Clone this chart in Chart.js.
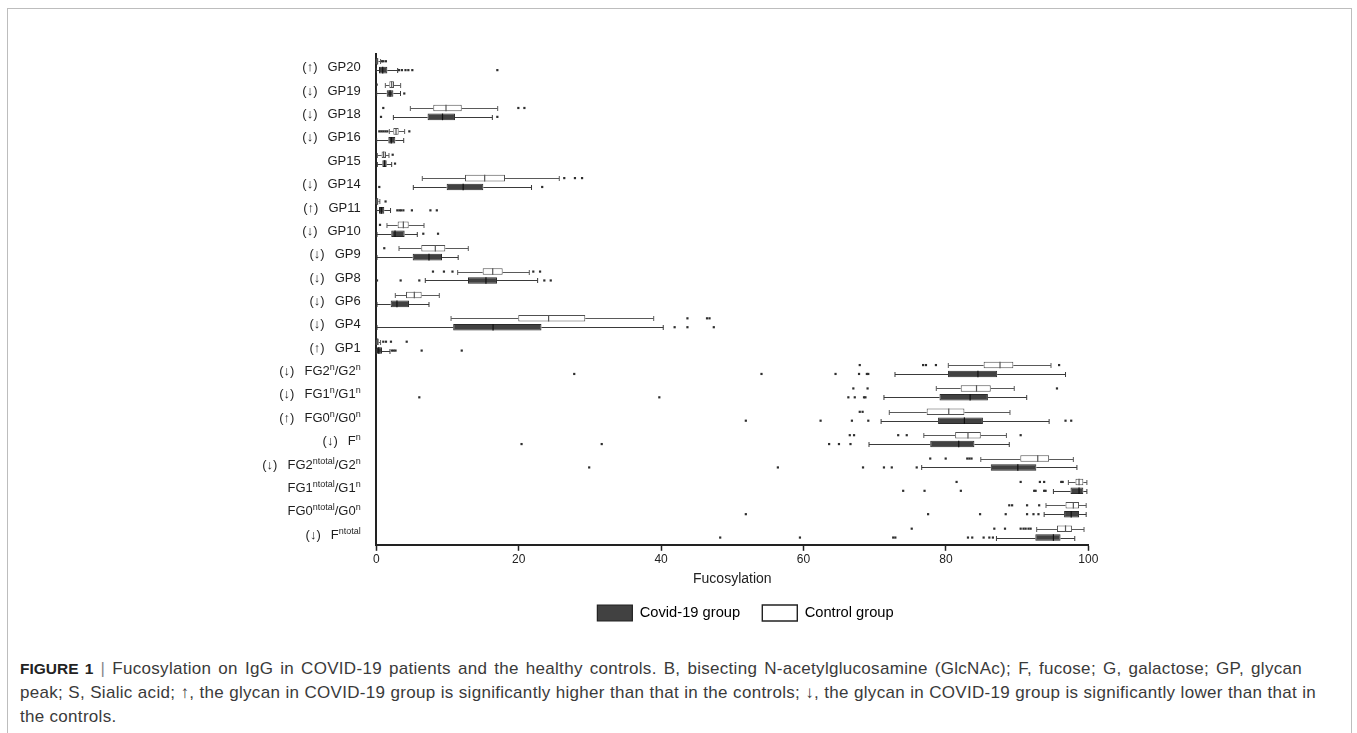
<!DOCTYPE html>
<html>
<head>
<meta charset="utf-8">
<script src="https://cdn.jsdelivr.net/npm/chart.js@4.4.1/dist/chart.umd.min.js"></script>
<style>
  html, body { margin:0; padding:0; background:#fff; width:1357px; height:733px; overflow:hidden; }
  #frame { position:absolute; left:7px; top:8px; width:1345px; height:800px; border:1px solid #bdbdbd; box-sizing:border-box; }
  #wrap { position:absolute; left:142px; top:0px; width:1207px; height:631px; }
  #caption { position:absolute; left:20px; top:657px; font-family:'Liberation Sans', Arial, sans-serif; font-size:17px; letter-spacing:0.3px; line-height:24px; color:#3a3a3a; }
  #caption div { white-space:nowrap; }
  #caption .j { text-align:justify; text-align-last:justify; }
  #caption b { color:#222; letter-spacing:0; font-size:15.5px; }
  #caption .sep { color:#888; }
</style>
</head>
<body>
<div id="frame"></div>
<div id="wrap"><canvas id="c" width="1207" height="631"></canvas></div>
<div id="caption">
  <div class="j" style="width:1282px"><b>FIGURE 1</b> <span class="sep">|</span> Fucosylation on IgG in COVID-19 patients and the healthy controls. B, bisecting N-acetylglucosamine (GlcNAc); F, fucose; G, galactose; GP, glycan</div>
  <div class="j" style="width:1296px">peak; S, Sialic acid; ↑, the glycan in COVID-19 group is significantly higher than that in the controls; ↓, the glycan in COVID-19 group is significantly lower than that in</div>
  <div>the controls.</div>
</div>
<script>
// ---- categories (top to bottom); {..} marks superscript ----
const categories = ['GP20','GP19','GP18','GP16','GP15','GP14','GP11','GP10','GP9','GP8','GP6','GP4','GP1',
  'FG2{n}/G2{n}','FG1{n}/G1{n}','FG0{n}/G0{n}','F{n}','FG2{ntotal}/G2{n}','FG1{ntotal}/G1{n}','FG0{ntotal}/G0{n}','F{ntotal}'];
const trend = ['↑','↓','↓','↓','','↓','↑','↓','↓','↓','↓','↓','↑','↓','↓','↑','↓','↓','','','↓'];
const xTicks = [0, 20, 40, 60, 80, 100];

// ---- Control group ----
const ctlMin = [0, 1.27, 4.78, 1.83, 0.15, 6.46, 0, 1.5, 3.19, 11.43, 2.67, 10.5, 0, 80.34, 78.65, 72.05, 76.9, 84.9, 97.2, 94.06, 92.75];
const ctlQ1  = [0.05, 1.83, 8.0, 2.39, 0.75, 12.46, 0.05, 3.0, 6.32, 14.94, 4.17, 19.94, 0.05, 85.3, 82.08, 77.3, 81.3, 90.45, 98.2, 96.8, 95.6];
const ctlMed = [0.15, 2.16, 9.79, 2.77, 1.03, 15.22, 0.15, 3.8, 8.29, 16.35, 5.34, 24.2, 0.15, 87.6, 84.3, 80.4, 83.1, 92.9, 98.7, 97.9, 96.8];
const ctlQ3  = [0.3, 2.49, 12.0, 3.14, 1.36, 18.08, 0.3, 4.55, 9.69, 17.75, 6.37, 29.35, 0.35, 89.47, 86.3, 82.6, 84.9, 94.5, 99.3, 98.7, 97.7];
const ctlMax = [0.6, 3.42, 17.05, 3.98, 1.78, 25.7, 0.5, 6.7, 12.92, 21.49, 8.85, 38.96, 0.6, 94.76, 89.6, 89.0, 88.5, 97.9, 99.8, 99.7, 99.4];
const ctlOut = [
  [0.8, 1.0, 1.35], [0.05], [0.98, 19.95, 20.8], [0.42, 0.7, 0.98, 1.27, 1.55, 4.64], [2.3],
  [26.4, 27.9, 28.9], [1.3], [0.52], [1.12], [7.96, 9.5, 10.7, 22.05, 23.0], [],
  [43.7, 46.45, 46.8], [0.98, 1.36, 2.06, 4.27],
  [67.9, 76.8, 77.2, 78.6, 95.9], [67.0, 69.0, 95.6], [67.9, 68.3], [66.5, 67.1, 73.3, 74.5, 90.5],
  [77.8, 79.97, 83.0, 83.3, 83.6], [81.5, 90.5, 93.2, 93.8, 96.2, 96.4], [88.9, 89.3, 91.4, 93.1],
  [75.2, 86.8, 88.3, 90.5, 90.9, 91.2, 91.6, 91.9]
];

// ---- Covid-19 group ----
const covMin = [0, 0.05, 2.4, 0.05, 0.15, 5.2, 0.05, 0.1, 0.1, 6.88, 0.1, 0.1, 0, 72.85, 71.3, 70.9, 69.2, 76.6, 95.1, 93.8, 87.1];
const covQ1  = [0.38, 1.46, 7.2, 1.69, 0.85, 9.88, 0.38, 2.1, 5.11, 12.88, 2.02, 10.8, 0.1, 80.3, 79.1, 78.9, 77.8, 86.3, 97.5, 96.6, 92.56];
const covMed = [0.9, 1.93, 9.3, 2.1, 1.17, 12.2, 0.71, 2.63, 7.4, 15.4, 2.9, 16.4, 0.35, 84.5, 83.4, 82.6, 81.8, 90.1, 98.7, 97.6, 95.1];
const covQ3  = [1.55, 2.4, 11.05, 2.67, 1.46, 15.03, 1.12, 3.98, 9.23, 16.95, 4.59, 23.2, 0.8, 87.2, 85.9, 85.2, 84.0, 92.7, 99.3, 98.7, 96.1];
const covMax = [3.0, 3.4, 16.3, 3.85, 2.16, 21.8, 2.0, 5.76, 11.5, 22.66, 7.4, 40.3, 1.92, 96.8, 91.35, 94.5, 88.9, 98.4, 99.8, 99.7, 98.1];
const covOut = [
  [3.2, 3.6, 4.1, 4.5, 5.06, 17.0], [3.93], [0.66, 17.0], [], [2.63],
  [0.42, 23.3], [2.95, 3.24, 3.48, 3.8, 5.0, 7.6, 8.5], [6.6, 8.67], [], [0.1, 3.42, 6.04, 23.6, 24.5], [],
  [41.9, 43.7, 47.4], [2.2, 2.45, 2.7, 6.37, 12.0],
  [27.8, 54.1, 64.5, 67.8, 68.9, 69.1], [6.04, 39.75, 66.3, 67.2, 68.5, 68.7], [51.9, 62.4, 66.8, 69.1, 96.8, 97.6],
  [20.4, 31.66, 63.6, 64.98, 66.6], [29.9, 56.4, 68.36, 71.3, 72.4, 75.9],
  [74.0, 77.0, 82.1, 92.4, 92.6, 93.8, 94.0], [51.9, 77.5, 84.8, 88.4, 91.4, 92.3, 93.0],
  [48.3, 59.5, 72.6, 72.9, 83.1, 83.7, 85.3, 86.1, 86.6]
];

const FONT = "'Liberation Sans', Arial, sans-serif";
const groups = [
  { min: ctlMin, med: ctlMed, max: ctlMax, out: ctlOut, whisker: '#5a5a5a', median: '#555' },
  { min: covMin, med: covMed, max: covMax, out: covOut, whisker: '#3a3a3a', median: '#111' }
];

function parseLabel(s) {
  const parts = []; const re = /([^{]+)|\{([^}]*)\}/g; let m;
  while ((m = re.exec(s)) !== null) {
    if (m[1] !== undefined) parts.push({ t: m[1], sup: false });
    else parts.push({ t: m[2], sup: true });
  }
  return parts;
}

const boxPlugin = {
  id: 'boxExtras',
  beforeDatasetsDraw(chart) {
    const ctx = chart.ctx, xs = chart.scales.x;
    ctx.save();
    groups.forEach((g, d) => {
      const meta = chart.getDatasetMeta(d);
      meta.data.forEach((bar, i) => {
        const p = bar.getProps(['x', 'y', 'base', 'height'], true);
        const y = Math.round(p.y) + 0.5;
        const xMin = xs.getPixelForValue(g.min[i]);
        const xMax = xs.getPixelForValue(g.max[i]);
        const x1 = Math.min(p.x, p.base), x2 = Math.max(p.x, p.base);
        ctx.strokeStyle = g.whisker; ctx.lineWidth = 1;
        ctx.beginPath();
        if (xMin < x1) { ctx.moveTo(xMin, y); ctx.lineTo(x1, y); ctx.moveTo(xMin, y - 2.5); ctx.lineTo(xMin, y + 2.5); }
        if (xMax > x2) { ctx.moveTo(x2, y); ctx.lineTo(xMax, y); ctx.moveTo(xMax, y - 2.5); ctx.lineTo(xMax, y + 2.5); }
        ctx.stroke();
      });
    });
    ctx.restore();
  },
  afterDatasetsDraw(chart) {
    const ctx = chart.ctx, xs = chart.scales.x;
    ctx.save();
    groups.forEach((g, d) => {
      const meta = chart.getDatasetMeta(d);
      meta.data.forEach((bar, i) => {
        const p = bar.getProps(['x', 'y', 'height'], true);
        const h = p.height;
        const xm = xs.getPixelForValue(g.med[i]);
        ctx.strokeStyle = g.median; ctx.lineWidth = 1.2;
        ctx.beginPath(); ctx.moveTo(xm, p.y - h / 2); ctx.lineTo(xm, p.y + h / 2); ctx.stroke();
        ctx.fillStyle = '#2e2e2e';
        g.out[i].forEach(v => {
          const xo = xs.getPixelForValue(v);
          ctx.fillRect(xo - 1.1, p.y - 1.1, 2.2, 2.2);
        });
      });
    });
    ctx.restore();
  },
  afterDraw(chart) {
    const ctx = chart.ctx, ys = chart.scales.y;
    const xRight = chart.chartArea.left - 15.6;
    const mainFont = '13px ' + FONT, supFont = '9px ' + FONT;
    ctx.save();
    ctx.fillStyle = '#1e1e1e';
    ctx.textAlign = 'left'; ctx.textBaseline = 'alphabetic';
    categories.forEach((lab, i) => {
      const base = ys.getPixelForValue(i) + 5.6;
      const parts = parseLabel(lab);
      let w = 0;
      parts.forEach(pt => { ctx.font = pt.sup ? supFont : mainFont; pt.w = ctx.measureText(pt.t).width; w += pt.w; });
      let x = xRight - w;
      const start = x;
      parts.forEach(pt => { ctx.font = pt.sup ? supFont : mainFont; ctx.fillText(pt.t, x, pt.sup ? base - 5 : base); x += pt.w; });
      if (trend[i]) {
        ctx.font = mainFont;
        const a = '(' + trend[i] + ')';
        const aw = ctx.measureText(a).width;
        ctx.fillText(a, start - 10 - aw, base);
      }
    });
    ctx.restore();
  }
};

new Chart(document.getElementById('c'), {
  type: 'bar',
  data: {
    labels: categories,
    datasets: [
      { label: 'Control group', data: ctlQ1.map((v, i) => [v, ctlQ3[i]]),
        backgroundColor: '#ffffff', borderColor: '#505050', borderWidth: 1, borderSkipped: false,
        categoryPercentage: 0.76, barPercentage: 0.74 },
      { label: 'Covid-19 group', data: covQ1.map((v, i) => [v, covQ3[i]]),
        backgroundColor: '#414141', borderColor: '#2a2a2a', borderWidth: 1, borderSkipped: false,
        categoryPercentage: 0.76, barPercentage: 0.74 }
    ]
  },
  options: {
    indexAxis: 'y',
    responsive: false,
    animation: false,
    layout: { padding: { top: 54, right: 0, bottom: 0, left: 0 } },
    scales: {
      x: {
        type: 'linear', min: 0, max: 100,
        afterBuildTicks(s) { s.ticks = xTicks.map(v => ({ value: v })); },
        ticks: { font: { family: FONT, size: 12 }, color: '#222', padding: 2 },
        grid: { display: true, drawOnChartArea: false, drawTicks: true, tickLength: 6, tickWidth: 1.5, tickColor: '#222' },
        border: { display: true, color: '#222', width: 2 },
        title: { display: true, text: 'Fucosylation', font: { family: FONT, size: 14 }, color: '#222', padding: { top: 2, bottom: 3 } }
      },
      y: {
        type: 'category', position: 'left',
        ticks: { display: false },
        grid: { display: false, drawTicks: false },
        border: { display: true, color: '#222', width: 2 },
        afterFit(s) { s.width = 234.3; }
      },
      yr: {
        type: 'linear', position: 'right', display: true,
        ticks: { display: false },
        grid: { display: false, drawTicks: false },
        border: { display: false },
        afterFit(s) { s.width = 260.7; }
      }
    },
    plugins: {
      tooltip: { enabled: false },
      legend: {
        display: true, position: 'bottom', align: 'center',
        labels: {
          font: { family: FONT, size: 14.7 }, color: '#222',
          boxWidth: 35, boxHeight: 16, padding: 14,
          generateLabels() {
            return [
              { text: 'Covid-19 group  ', fillStyle: '#414141', strokeStyle: '#222', lineWidth: 1.2, datasetIndex: 1, hidden: false },
              { text: 'Control group', fillStyle: '#ffffff', strokeStyle: '#222', lineWidth: 1.4, datasetIndex: 0, hidden: false }
            ];
          }
        }
      }
    }
  },
  plugins: [boxPlugin]
});
</script>
</body>
</html>
